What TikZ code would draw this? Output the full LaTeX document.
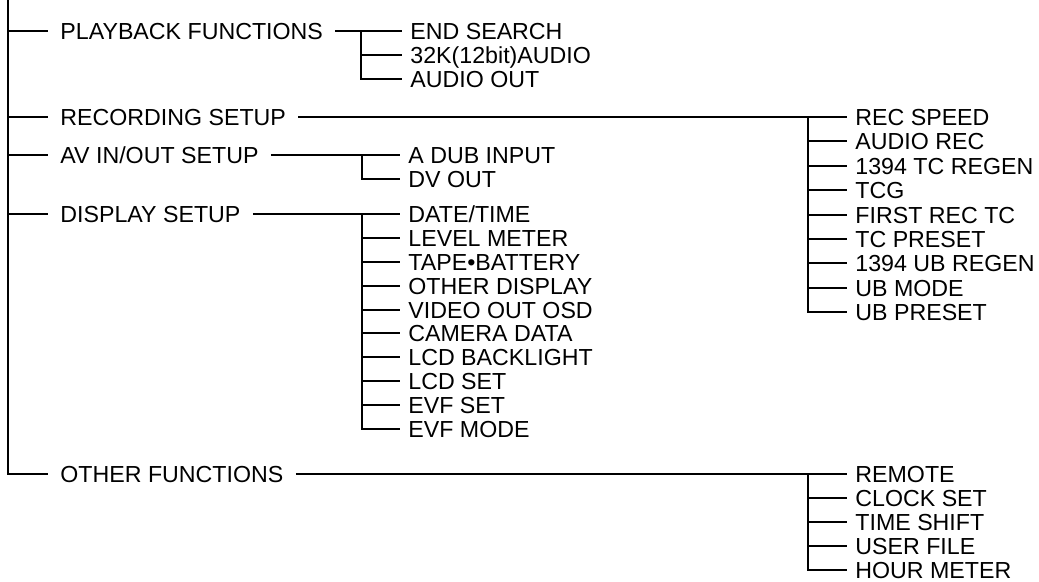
\documentclass[tikz,border=0pt]{standalone}
\usepackage{fontspec}
\setmainfont{Liberation Sans}
\usetikzlibrary{calc}

\begin{document}
\begin{tikzpicture}[x=0.5pt,y=-0.5pt,
  mainitem/.style={anchor=west,inner xsep=6pt,inner ysep=0pt,text height=8.2pt,text depth=0pt,font=\fontsize{11.6}{13}\selectfont},
  subitem/.style={mainitem,inner xsep=4pt},
  wire/.style={line width=0.9pt}]
  \useasboundingbox (0,0) rectangle (1039,582);
  % trunk and first level
  \coordinate (trunk) at (8,0);
  \node[mainitem] (play) at (48,31) {PLAYBACK FUNCTIONS};
  \node[mainitem] (rec) at (48,117) {RECORDING SETUP};
  \node[mainitem] (av) at (48,155) {AV IN/OUT SETUP};
  \node[mainitem] (disp) at (48,214) {DISPLAY SETUP};
  \node[mainitem] (other) at (48,474) {OTHER FUNCTIONS};
  \foreach \n in {play,rec,av,disp,other}{\draw[wire,line width=1pt] (trunk) |- (\n);}
  % playback
  \coordinate (playfork) at (361,31);
  \foreach \t [count=\i from 0] in {END SEARCH,32K(12bit)AUDIO,AUDIO OUT}{
    \node[subitem] (play\i) at (402,31+24*\i) {\t};
    \draw[wire] (playfork) |- (play\i);}
  \draw[wire] (play) -- (play0);
  % recording
  \coordinate (recfork) at (808,117);
  \foreach \t [count=\i from 0] in {REC SPEED,AUDIO REC,1394 TC REGEN,TCG,FIRST REC TC,TC PRESET,1394 UB REGEN,UB MODE,UB PRESET}{
    \node[subitem] (rec\i) at (847,{117+round(24.4*\i)}) {\t};
    \draw[wire] (recfork) |- (rec\i);}
  \draw[wire] (rec) -- (rec0);
  % av in/out
  \coordinate (avfork) at (362,155);
  \foreach \t [count=\i from 0] in {A DUB INPUT,DV OUT}{
    \node[subitem] (av\i) at (400,155+24*\i) {\t};
    \draw[wire] (avfork) |- (av\i);}
  \draw[wire] (av) -- (av0);
  % display
  \coordinate (dispfork) at (362,214);
  \foreach \t [count=\i from 0] in {DATE/TIME,LEVEL METER,TAPE•BATTERY,OTHER DISPLAY,VIDEO OUT OSD,CAMERA DATA,LCD BACKLIGHT,LCD SET,EVF SET,EVF MODE}{
    \node[subitem] (disp\i) at (400,{214+round(23.9*\i)}) {\t};
    \draw[wire] (dispfork) |- (disp\i);}
  \draw[wire] (disp) -- (disp0);
  % other
  \coordinate (otherfork) at (808,474);
  \foreach \t [count=\i from 0] in {REMOTE,CLOCK SET,TIME SHIFT,USER FILE,HOUR METER}{
    \node[subitem] (other\i) at (847,474+24*\i) {\t};
    \draw[wire] (otherfork) |- (other\i);}
  \draw[wire] (other) -- (other0);
\end{tikzpicture}
\end{document}
